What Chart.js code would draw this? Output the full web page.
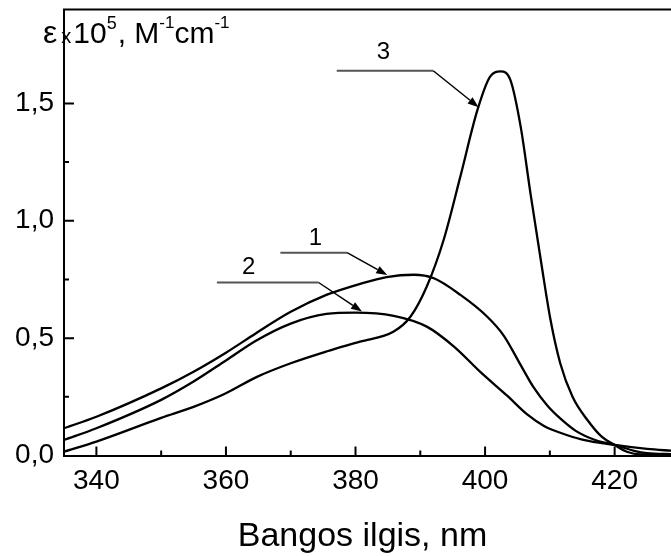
<!DOCTYPE html>
<html>
<head>
<meta charset="utf-8">
<script src="https://cdn.jsdelivr.net/npm/chart.js@4.4.1/dist/chart.umd.min.js"></script>
<style>
  html, body { margin: 0; padding: 0; background: #fff; }
  #wrap { width: 671px; height: 556px; position: relative; }
</style>
</head>
<body>
<div id="wrap"><canvas id="spectra"></canvas></div>
<script>
/* ===== Datos ===== */
// curva 1
const wl1  = [335, 340, 350, 355, 360, 364.7, 370, 375.5, 380.7, 384.8, 389, 392.1, 396.2, 400.3, 402.9, 405.5, 407.5, 409.6, 411.6, 414, 417, 420, 423, 425, 429];
const eps1 = [0.116, 0.165, 0.286, 0.357, 0.438, 0.522, 0.612, 0.684, 0.731, 0.76, 0.77, 0.755, 0.684, 0.592, 0.51, 0.385, 0.29, 0.213, 0.158, 0.105, 0.066, 0.045, 0.02, 0.01, 0.006];
// curva 2
const wl2  = [335, 340, 350, 355, 360, 364.7, 370, 375.5, 380, 385.9, 391, 395.2, 399.3, 403.4, 406.5, 409.1, 411.6, 415, 420, 425, 429];
const eps2 = [0.066, 0.116, 0.237, 0.315, 0.405, 0.49, 0.562, 0.603, 0.609, 0.595, 0.549, 0.464, 0.355, 0.255, 0.175, 0.126, 0.097, 0.068, 0.045, 0.028, 0.02];
// curva 3
const wl3  = [335, 340, 350, 355, 360, 364.7, 370, 375.5, 380.7, 385.9, 388.5, 391, 393.6, 396.2, 398.8, 400.8, 402.4, 403.9, 405.5, 407, 408.6, 410.1, 411.6, 413.5, 415.8, 418, 420, 422, 424, 429];
const eps3 = [0.016, 0.059, 0.16, 0.207, 0.265, 0.334, 0.393, 0.443, 0.485, 0.528, 0.592, 0.72, 0.918, 1.19, 1.47, 1.615, 1.636, 1.60, 1.40, 1.118, 0.833, 0.578, 0.393, 0.25, 0.151, 0.08, 0.045, 0.015, 0.005, 0.004];

const xTicks = [340, 350, 360, 370, 380, 390, 400, 410, 420];
const yTicks = [0, 0.25, 0.5, 0.75, 1.0, 1.25, 1.5];

// etiquetas de curvas: texto, inicio de la línea, codo, punta de flecha (coordenadas de datos)
const marks = [
  { text: '3', tx: 384.3, ty: 1.716, x0: 377.1, x1: 392.0, yl: 1.639, ax: 399.0, ay: 1.484 },
  { text: '1', tx: 373.8, ty: 0.927, x0: 368.4, x1: 378.7, yl: 0.864, ax: 384.9, ay: 0.769 },
  { text: '2', tx: 363.5, ty: 0.802, x0: 358.6, x1: 374.3, yl: 0.737, ax: 381.0, ay: 0.613 },
];

const FONT = '"Liberation Sans", Arial, sans-serif';
const pts = (xs, ys) => xs.map((x, i) => ({ x, y: ys[i] }));
const isMajorY = v => Math.abs(v * 2 - Math.round(v * 2)) < 1e-6;

/* ===== Marcas de ejes hacia dentro + marco superior ===== */
const frame = {
  id: 'frame',
  afterDraw(chart) {
    const { ctx, chartArea: a, scales: { x, y } } = chart;
    ctx.save();
    ctx.strokeStyle = '#000';
    ctx.lineWidth = 2;
    ctx.beginPath();
    ctx.moveTo(a.left - 1, a.top);
    ctx.lineTo(a.right, a.top);
    xTicks.forEach(v => {
      const px = x.getPixelForValue(v);
      const len = v % 20 === 0 ? 9 : 5;
      ctx.moveTo(px, a.bottom);
      ctx.lineTo(px, a.bottom - len);
    });
    yTicks.forEach(v => {
      if (v === 0) return;
      const py = y.getPixelForValue(v);
      const len = isMajorY(v) ? 10 : 5;
      ctx.moveTo(a.left, py);
      ctx.lineTo(a.left + len, py);
    });
    ctx.stroke();

    // flechas y números de las curvas
    marks.forEach(m => {
      const tx = x.getPixelForValue(m.tx), ty = y.getPixelForValue(m.ty);
      const x0 = x.getPixelForValue(m.x0), x1 = x.getPixelForValue(m.x1), yl = y.getPixelForValue(m.yl);
      const ax = x.getPixelForValue(m.ax), ay = y.getPixelForValue(m.ay);
      ctx.fillStyle = '#000';
      ctx.font = '24px ' + FONT;
      ctx.textAlign = 'center';
      ctx.textBaseline = 'middle';
      ctx.fillText(m.text, tx, ty);
      ctx.strokeStyle = '#555';
      ctx.lineWidth = 2;
      ctx.beginPath();
      ctx.moveTo(x0, yl); ctx.lineTo(x1, yl);
      ctx.stroke();
      ctx.strokeStyle = '#000';
      ctx.lineWidth = 1.5;
      const ang = Math.atan2(ay - yl, ax - x1);
      const hl = 11, hw = 4;
      const bx = ax - hl * Math.cos(ang), by = ay - hl * Math.sin(ang);
      ctx.beginPath();
      ctx.moveTo(x1, yl); ctx.lineTo(bx, by);
      ctx.stroke();
      ctx.beginPath();
      ctx.moveTo(ax, ay);
      ctx.lineTo(bx + hw * Math.sin(ang), by - hw * Math.cos(ang));
      ctx.lineTo(bx - hw * Math.sin(ang), by + hw * Math.cos(ang));
      ctx.closePath();
      ctx.fill();
    });

    // título del eje Y: ε x 10^5, M^-1 cm^-1
    const parts = [
      { t: 'ε', s: 32, dy: 0, gap: 4 },
      { t: 'x', s: 20, dy: 0, gap: 2 },
      { t: '10', s: 30, dy: 0, gap: 0 },
      { t: '5', s: 18, dy: -14, gap: 1 },
      { t: ', M', s: 30, dy: 0, gap: 0 },
      { t: '-1', s: 17, dy: -15, gap: 0 },
      { t: 'cm', s: 30, dy: 0, gap: 0 },
      { t: '-1', s: 17, dy: -15, gap: 0 },
    ];
    let cx = 43;
    const base = 43;
    ctx.textAlign = 'left';
    ctx.textBaseline = 'alphabetic';
    ctx.fillStyle = '#000';
    parts.forEach(p => {
      ctx.font = p.s + 'px ' + FONT;
      ctx.fillText(p.t, cx, base + p.dy);
      cx += ctx.measureText(p.t).width + p.gap;
    });

    // título del eje X (un poco a la izquierda del centro, como en el original)
    ctx.font = '34px ' + FONT;
    ctx.textAlign = 'center';
    ctx.fillText('Bangos ilgis, nm', (a.left + a.right) / 2 - 5, 546);
    ctx.restore();
  }
};

/* ===== Gráfico ===== */
const line = (xs, ys) => ({
  data: pts(xs, ys),
  borderColor: '#000',
  borderWidth: 2.3,
  pointRadius: 0,
  fill: false,
  cubicInterpolationMode: 'monotone',
});

new Chart(document.getElementById('spectra'), {
  type: 'line',
  data: { datasets: [line(wl1, eps1), line(wl2, eps2), line(wl3, eps3)] },
  options: {
    responsive: true,
    maintainAspectRatio: false,
    animation: false,
    devicePixelRatio: 1,
    layout: { padding: { top: 9.5, right: 0, bottom: 0, left: 0 } },
    plugins: { legend: { display: false }, tooltip: { enabled: false } },
    scales: {
      x: {
        type: 'linear',
        min: 335,
        max: 428.7,
        afterBuildTicks: s => { s.ticks = xTicks.map(v => ({ value: v })); },
        afterFit: s => { s.height = 100.5; s.paddingLeft = 0; s.paddingRight = 0; },
        grid: { display: false, drawTicks: false },
        border: { display: true, color: '#000', width: 2 },
        ticks: {
          autoSkip: false, maxRotation: 0, padding: 9, color: '#000',
          font: { family: FONT, size: 28 },
          callback: v => (v % 20 === 0 ? String(v) : ''),
        },
      },
      y: {
        min: 0,
        max: 1.9,
        afterBuildTicks: s => { s.ticks = yTicks.map(v => ({ value: v })); },
        afterFit: s => { s.width = 64; s.paddingTop = 0; s.paddingBottom = 0; },
        grid: { display: false, drawTicks: false },
        border: { display: true, color: '#000', width: 2 },
        ticks: {
          padding: 10, color: '#000',
          font: { family: FONT, size: 28 },
          callback: v => (isMajorY(v) ? v.toFixed(1).replace('.', ',') : ''),
        },
      },
    },
  },
  plugins: [frame],
});
</script>
</body>
</html>
